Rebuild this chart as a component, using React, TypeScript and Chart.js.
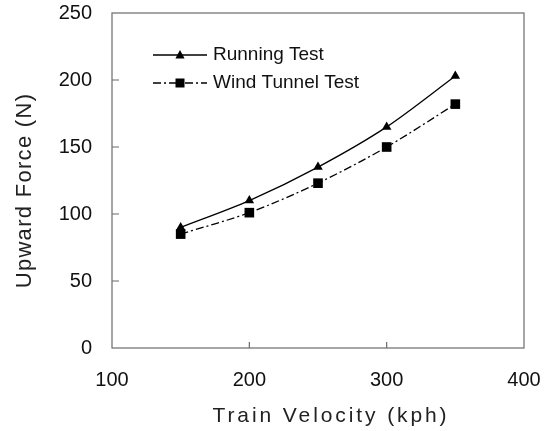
import React, { useEffect, useRef } from "react";
import { Chart, registerables } from "chart.js";

Chart.register(...registerables);

const velocities = [150, 200, 250, 300, 350];
const runningTest = [90, 110, 135, 165, 203];
const windTunnelTest = [85, 101, 123, 150, 182];
const seriesLabels = ["Running Test", "Wind Tunnel Test"];
const xTitle = "Train Velocity (kph)";
const yTitle = "Upward Force (N)";

const FONT = "'Liberation Sans', Arial, sans-serif";

function drawMarker(ctx: CanvasRenderingContext2D, style: string, x: number, y: number) {
  ctx.beginPath();
  if (style === "triangle") {
    ctx.moveTo(x, y - 5);
    ctx.lineTo(x + 4.6, y + 3.5);
    ctx.lineTo(x - 4.6, y + 3.5);
    ctx.closePath();
  } else {
    ctx.rect(x - 4.5, y - 4.5, 9, 9);
  }
  ctx.fill();
}

const framePlugin = {
  id: "frameAndLegend",
  afterDraw(chart: any) {
    const ctx: CanvasRenderingContext2D = chart.ctx;
    const { left, right, top, bottom } = chart.chartArea;
    const xs = chart.scales.x;
    const ys = chart.scales.y;
    ctx.save();
    // frame
    ctx.strokeStyle = "#6b6b6b";
    ctx.lineWidth = 1.2;
    ctx.strokeRect(left, top, right - left, bottom - top);
    // inward ticks
    ctx.beginPath();
    ys.ticks.forEach((t: any) => {
      if (t.value <= ys.min || t.value >= ys.max) return;
      const py = ys.getPixelForValue(t.value);
      ctx.moveTo(left, py);
      ctx.lineTo(left + 7, py);
    });
    xs.ticks.forEach((t: any) => {
      if (t.value <= xs.min || t.value >= xs.max) return;
      const px = xs.getPixelForValue(t.value);
      ctx.moveTo(px, bottom);
      ctx.lineTo(px, bottom - 6);
    });
    ctx.stroke();

    // axis titles
    ctx.fillStyle = "#222";
    ctx.textAlign = "center";
    ctx.textBaseline = "middle";
    ctx.font = `21px ${FONT}`;
    (ctx as any).letterSpacing = "2.9px";
    ctx.fillText(xTitle, (left + right) / 2 + 13, bottom + 68);
    ctx.font = `22px ${FONT}`;
    (ctx as any).letterSpacing = "1.3px";
    ctx.save();
    ctx.translate(left - 87, (top + bottom) / 2 + 10);
    ctx.rotate(-Math.PI / 2);
    ctx.fillText(yTitle, 0, 0);
    ctx.restore();
    (ctx as any).letterSpacing = "0px";

    // legend
    const lx0 = left + 41;
    const lx1 = left + 95;
    const rows = [top + 42, top + 70];
    chart.data.datasets.forEach((ds: any, i: number) => {
      const y = rows[i];
      ctx.strokeStyle = "#000";
      ctx.fillStyle = "#000";
      ctx.lineWidth = 1.3;
      ctx.setLineDash(ds.borderDash || []);
      ctx.beginPath();
      ctx.moveTo(lx0, y);
      ctx.lineTo(lx1, y);
      ctx.stroke();
      ctx.setLineDash([]);
      drawMarker(ctx, ds.pointStyle, (lx0 + lx1) / 2, y);
      ctx.font = `19px ${FONT}`;
      ctx.textAlign = "left";
      ctx.textBaseline = "middle";
      ctx.fillStyle = "#111";
      ctx.fillText(ds.label, lx1 + 6, y);
    });
    ctx.restore();
  },
};

function clearPadding(scale: any) {
  scale.paddingTop = 0;
  scale.paddingBottom = 0;
  scale.paddingLeft = 0;
  scale.paddingRight = 0;
}

export default function App() {
  const ref = useRef<HTMLCanvasElement>(null);
  useEffect(() => {
    document.body.style.margin = "0";
    const chart = new Chart(ref.current!, {
      type: "line",
      data: {
        datasets: [
          {
            label: seriesLabels[0],
            data: velocities.map((v, i) => ({ x: v, y: runningTest[i] })),
            borderColor: "#000",
            backgroundColor: "#000",
            borderWidth: 1.3,
            pointStyle: "triangle",
            pointRadius: 5.5,
            pointBorderWidth: 0,
            tension: 0.3,
          },
          {
            label: seriesLabels[1],
            data: velocities.map((v, i) => ({ x: v, y: windTunnelTest[i] })),
            borderColor: "#000",
            backgroundColor: "#000",
            borderWidth: 1.3,
            borderDash: [8, 3, 2, 3],
            pointStyle: "rect",
            pointRadius: 6.8,
            pointBorderWidth: 0,
            tension: 0.3,
          },
        ],
      },
      options: {
        animation: false,
        responsive: false,
        maintainAspectRatio: false,
        layout: { padding: { left: 0, top: 13, right: 28, bottom: 0 } },
        plugins: { legend: { display: false }, tooltip: { enabled: false } },
        scales: {
          x: {
            type: "linear",
            min: 100,
            max: 400,
            grid: { display: false, drawTicks: false },
            border: { display: false },
            ticks: {
              stepSize: 100,
              padding: 20,
              color: "#111",
              font: { family: FONT, size: 20 },
              maxRotation: 0,
            },
            afterFit(scale: any) {
              scale.height = 83;
              clearPadding(scale);
            },
          },
          y: {
            min: 0,
            max: 250,
            grid: { display: false, drawTicks: false },
            border: { display: false },
            ticks: {
              stepSize: 50,
              padding: 20,
              color: "#111",
              font: { family: FONT, size: 20 },
            },
            afterFit(scale: any) {
              scale.width = 112;
              clearPadding(scale);
            },
          },
        },
      },
      plugins: [framePlugin],
    });
    return () => chart.destroy();
  }, []);
  return (
    <div style={{ width: 552, height: 431 }}>
      <canvas ref={ref} width={552} height={431} style={{ display: "block" }} />
    </div>
  );
}
